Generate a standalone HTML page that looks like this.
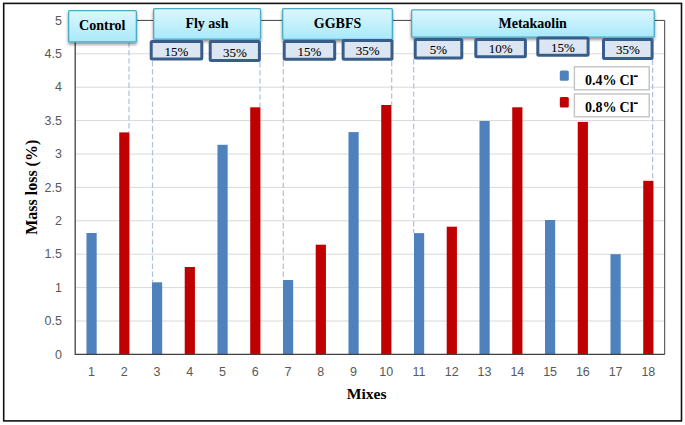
<!DOCTYPE html><html><head><meta charset="utf-8"><style>html,body{margin:0;padding:0;background:#fff;}svg{display:block}</style></head><body>
<svg width="685" height="425" viewBox="0 0 685 425">
<defs>
<linearGradient id="g" x1="0" y1="0" x2="0" y2="1"><stop offset="0" stop-color="#dcf7fe"/><stop offset="1" stop-color="#a9e9fa"/></linearGradient>
<filter id="sh" x="-10%" y="-20%" width="130%" height="160%"><feGaussianBlur in="SourceAlpha" stdDeviation="1.4"/><feOffset dx="0.3" dy="1.8" result="b"/><feComponentTransfer><feFuncA type="linear" slope="0.45"/></feComponentTransfer><feMerge><feMergeNode/><feMergeNode in="SourceGraphic"/></feMerge></filter>
</defs>
<rect x="0" y="0" width="685" height="425" fill="#fff"/>
<rect x="3.7" y="3.4" width="677.8" height="417.5" fill="none" stroke="#111" stroke-width="1.6"/>
<line x1="75.2" y1="321.00" x2="664.7" y2="321.00" stroke="#d9d9d9" stroke-width="1"/>
<line x1="75.2" y1="287.60" x2="664.7" y2="287.60" stroke="#d9d9d9" stroke-width="1"/>
<line x1="75.2" y1="254.20" x2="664.7" y2="254.20" stroke="#d9d9d9" stroke-width="1"/>
<line x1="75.2" y1="220.80" x2="664.7" y2="220.80" stroke="#d9d9d9" stroke-width="1"/>
<line x1="75.2" y1="187.40" x2="664.7" y2="187.40" stroke="#d9d9d9" stroke-width="1"/>
<line x1="75.2" y1="154.00" x2="664.7" y2="154.00" stroke="#d9d9d9" stroke-width="1"/>
<line x1="75.2" y1="120.60" x2="664.7" y2="120.60" stroke="#d9d9d9" stroke-width="1"/>
<line x1="75.2" y1="87.20" x2="664.7" y2="87.20" stroke="#d9d9d9" stroke-width="1"/>
<line x1="75.2" y1="53.80" x2="664.7" y2="53.80" stroke="#d9d9d9" stroke-width="1"/>
<polyline points="75.2,20.40 664.7,20.40 664.7,354.4" fill="none" stroke="#404040" stroke-width="1"/>
<rect x="86.48" y="233.00" width="10.2" height="121.40" fill="#4f81bd"/>
<rect x="119.23" y="132.40" width="10.2" height="222.00" fill="#c00000"/>
<rect x="151.97" y="282.30" width="10.2" height="72.10" fill="#4f81bd"/>
<rect x="184.72" y="267.00" width="10.2" height="87.40" fill="#c00000"/>
<rect x="217.47" y="144.80" width="10.2" height="209.60" fill="#4f81bd"/>
<rect x="250.22" y="107.30" width="10.2" height="247.10" fill="#c00000"/>
<rect x="282.97" y="280.00" width="10.2" height="74.40" fill="#4f81bd"/>
<rect x="315.72" y="244.70" width="10.2" height="109.70" fill="#c00000"/>
<rect x="348.47" y="132.10" width="10.2" height="222.30" fill="#4f81bd"/>
<rect x="381.22" y="105.00" width="10.2" height="249.40" fill="#c00000"/>
<rect x="413.97" y="233.10" width="10.2" height="121.30" fill="#4f81bd"/>
<rect x="446.72" y="226.70" width="10.2" height="127.70" fill="#c00000"/>
<rect x="479.47" y="121.00" width="10.2" height="233.40" fill="#4f81bd"/>
<rect x="512.23" y="107.30" width="10.2" height="247.10" fill="#c00000"/>
<rect x="544.98" y="220.00" width="10.2" height="134.40" fill="#4f81bd"/>
<rect x="577.73" y="121.90" width="10.2" height="232.50" fill="#c00000"/>
<rect x="610.48" y="254.20" width="10.2" height="100.20" fill="#4f81bd"/>
<rect x="643.23" y="180.80" width="10.2" height="173.60" fill="#c00000"/>
<line x1="75.2" y1="354.4" x2="664.7" y2="354.4" stroke="#404040" stroke-width="1.3"/>
<line x1="75.2" y1="20.40" x2="75.2" y2="355.0" stroke="#404040" stroke-width="1.3"/>
<line x1="129.0" y1="42" x2="129.0" y2="132.40" stroke="#abc1e1" stroke-width="1.2" stroke-dasharray="5.4 2.7"/>
<line x1="152.5" y1="61" x2="152.5" y2="282.30" stroke="#abc1e1" stroke-width="1.2" stroke-dasharray="5.4 2.7"/>
<line x1="260.0" y1="62" x2="260.0" y2="107.30" stroke="#abc1e1" stroke-width="1.2" stroke-dasharray="5.4 2.7"/>
<line x1="283.3" y1="61" x2="283.3" y2="280.00" stroke="#abc1e1" stroke-width="1.2" stroke-dasharray="5.4 2.7"/>
<line x1="391.7" y1="61" x2="391.7" y2="105.00" stroke="#abc1e1" stroke-width="1.2" stroke-dasharray="5.4 2.7"/>
<line x1="413.7" y1="59" x2="413.7" y2="233.10" stroke="#abc1e1" stroke-width="1.2" stroke-dasharray="5.4 2.7"/>
<line x1="652.6" y1="59.5" x2="652.6" y2="180.80" stroke="#abc1e1" stroke-width="1.2" stroke-dasharray="5.4 2.7"/>
<text x="62" y="358.60" text-anchor="end" font-family="Liberation Sans, sans-serif" font-size="12.5" fill="#595959">0</text>
<text x="62" y="325.20" text-anchor="end" font-family="Liberation Sans, sans-serif" font-size="12.5" fill="#595959">0.5</text>
<text x="62" y="291.80" text-anchor="end" font-family="Liberation Sans, sans-serif" font-size="12.5" fill="#595959">1</text>
<text x="62" y="258.40" text-anchor="end" font-family="Liberation Sans, sans-serif" font-size="12.5" fill="#595959">1.5</text>
<text x="62" y="225.00" text-anchor="end" font-family="Liberation Sans, sans-serif" font-size="12.5" fill="#595959">2</text>
<text x="62" y="191.60" text-anchor="end" font-family="Liberation Sans, sans-serif" font-size="12.5" fill="#595959">2.5</text>
<text x="62" y="158.20" text-anchor="end" font-family="Liberation Sans, sans-serif" font-size="12.5" fill="#595959">3</text>
<text x="62" y="124.80" text-anchor="end" font-family="Liberation Sans, sans-serif" font-size="12.5" fill="#595959">3.5</text>
<text x="62" y="91.40" text-anchor="end" font-family="Liberation Sans, sans-serif" font-size="12.5" fill="#595959">4</text>
<text x="62" y="58.00" text-anchor="end" font-family="Liberation Sans, sans-serif" font-size="12.5" fill="#595959">4.5</text>
<text x="62" y="24.60" text-anchor="end" font-family="Liberation Sans, sans-serif" font-size="12.5" fill="#595959">5</text>
<text x="91.58" y="376" text-anchor="middle" font-family="Liberation Sans, sans-serif" font-size="12.5" fill="#595959">1</text>
<text x="124.33" y="376" text-anchor="middle" font-family="Liberation Sans, sans-serif" font-size="12.5" fill="#595959">2</text>
<text x="157.07" y="376" text-anchor="middle" font-family="Liberation Sans, sans-serif" font-size="12.5" fill="#595959">3</text>
<text x="189.82" y="376" text-anchor="middle" font-family="Liberation Sans, sans-serif" font-size="12.5" fill="#595959">4</text>
<text x="222.57" y="376" text-anchor="middle" font-family="Liberation Sans, sans-serif" font-size="12.5" fill="#595959">5</text>
<text x="255.32" y="376" text-anchor="middle" font-family="Liberation Sans, sans-serif" font-size="12.5" fill="#595959">6</text>
<text x="288.07" y="376" text-anchor="middle" font-family="Liberation Sans, sans-serif" font-size="12.5" fill="#595959">7</text>
<text x="320.82" y="376" text-anchor="middle" font-family="Liberation Sans, sans-serif" font-size="12.5" fill="#595959">8</text>
<text x="353.57" y="376" text-anchor="middle" font-family="Liberation Sans, sans-serif" font-size="12.5" fill="#595959">9</text>
<text x="386.32" y="376" text-anchor="middle" font-family="Liberation Sans, sans-serif" font-size="12.5" fill="#595959">10</text>
<text x="419.07" y="376" text-anchor="middle" font-family="Liberation Sans, sans-serif" font-size="12.5" fill="#595959">11</text>
<text x="451.82" y="376" text-anchor="middle" font-family="Liberation Sans, sans-serif" font-size="12.5" fill="#595959">12</text>
<text x="484.57" y="376" text-anchor="middle" font-family="Liberation Sans, sans-serif" font-size="12.5" fill="#595959">13</text>
<text x="517.33" y="376" text-anchor="middle" font-family="Liberation Sans, sans-serif" font-size="12.5" fill="#595959">14</text>
<text x="550.08" y="376" text-anchor="middle" font-family="Liberation Sans, sans-serif" font-size="12.5" fill="#595959">15</text>
<text x="582.83" y="376" text-anchor="middle" font-family="Liberation Sans, sans-serif" font-size="12.5" fill="#595959">16</text>
<text x="615.58" y="376" text-anchor="middle" font-family="Liberation Sans, sans-serif" font-size="12.5" fill="#595959">17</text>
<text x="648.33" y="376" text-anchor="middle" font-family="Liberation Sans, sans-serif" font-size="12.5" fill="#595959">18</text>
<text x="366.7" y="398.9" text-anchor="middle" font-family="Liberation Serif, serif" font-weight="bold" font-size="15.6" fill="#000">Mixes</text>
<text transform="translate(36.8,187.3) rotate(-90)" x="0" y="0" text-anchor="middle" font-family="Liberation Serif, serif" font-weight="bold" font-size="16" fill="#000">Mass loss (%)</text>
<rect x="68.65" y="10.65" width="67.70" height="31.30" rx="1" fill="url(#g)" stroke="#4bacc6" stroke-width="1.3" filter="url(#sh)"/>
<text x="102.3" y="30.3" text-anchor="middle" font-family="Liberation Serif, serif" font-weight="bold" font-size="14" fill="#000">Control</text>
<rect x="153.65" y="8.65" width="106.90" height="30.50" rx="1" fill="url(#g)" stroke="#4bacc6" stroke-width="1.3" filter="url(#sh)"/>
<text x="207" y="27.6" text-anchor="middle" font-family="Liberation Serif, serif" font-weight="bold" font-size="14" fill="#000">Fly ash</text>
<rect x="282.65" y="8.65" width="109.70" height="30.70" rx="1" fill="url(#g)" stroke="#4bacc6" stroke-width="1.3" filter="url(#sh)"/>
<text x="337.5" y="27.6" text-anchor="middle" font-family="Liberation Serif, serif" font-weight="bold" font-size="14" fill="#000">GGBFS</text>
<rect x="411.65" y="9.85" width="242.60" height="27.20" rx="1" fill="url(#g)" stroke="#4bacc6" stroke-width="1.3" filter="url(#sh)"/>
<text x="532.7" y="28.2" text-anchor="middle" font-family="Liberation Serif, serif" font-weight="bold" font-size="14" fill="#000">Metakaolin</text>
<rect x="151.2" y="41.5" width="50.60" height="17.60" rx="1" fill="#dce6f2" stroke="#385d8a" stroke-width="3"/>
<text x="176.50" y="55.8" text-anchor="middle" font-family="Liberation Serif, serif" font-size="13" fill="#000" stroke="#000" stroke-width="0.08">15%</text>
<rect x="210.2" y="41.5" width="49.20" height="19.00" rx="1" fill="#dce6f2" stroke="#385d8a" stroke-width="3"/>
<text x="234.80" y="57.0" text-anchor="middle" font-family="Liberation Serif, serif" font-size="13" fill="#000" stroke="#000" stroke-width="0.08">35%</text>
<rect x="284.2" y="41.6" width="50.50" height="17.70" rx="1" fill="#dce6f2" stroke="#385d8a" stroke-width="3"/>
<text x="309.45" y="55.7" text-anchor="middle" font-family="Liberation Serif, serif" font-size="13" fill="#000" stroke="#000" stroke-width="0.08">15%</text>
<rect x="343.1" y="40.4" width="48.90" height="18.90" rx="1" fill="#dce6f2" stroke="#385d8a" stroke-width="3"/>
<text x="367.55" y="55.45" text-anchor="middle" font-family="Liberation Serif, serif" font-size="13" fill="#000" stroke="#000" stroke-width="0.08">35%</text>
<rect x="415.2" y="39.4" width="46.60" height="18.50" rx="1" fill="#dce6f2" stroke="#385d8a" stroke-width="3"/>
<text x="438.50" y="53.8" text-anchor="middle" font-family="Liberation Serif, serif" font-size="13" fill="#000" stroke="#000" stroke-width="0.08">5%</text>
<rect x="475.8" y="39.5" width="49.60" height="17.15" rx="1" fill="#dce6f2" stroke="#385d8a" stroke-width="3"/>
<text x="500.60" y="52.9" text-anchor="middle" font-family="Liberation Serif, serif" font-size="13" fill="#000" stroke="#000" stroke-width="0.08">10%</text>
<rect x="537.8" y="37.9" width="50.30" height="17.45" rx="1" fill="#dce6f2" stroke="#385d8a" stroke-width="3"/>
<text x="562.95" y="52.0" text-anchor="middle" font-family="Liberation Serif, serif" font-size="13" fill="#000" stroke="#000" stroke-width="0.08">15%</text>
<rect x="603.5" y="39.4" width="48.60" height="19.20" rx="1" fill="#dce6f2" stroke="#385d8a" stroke-width="3"/>
<text x="627.80" y="53.7" text-anchor="middle" font-family="Liberation Serif, serif" font-size="13" fill="#000" stroke="#000" stroke-width="0.08">35%</text>
<rect x="559.8" y="70.4" width="9" height="10.4" rx="1.5" fill="#4f81bd"/>
<rect x="559.8" y="97" width="9" height="10.4" rx="1.5" fill="#c00000"/>
<rect x="574.4" y="66.8" width="74.8" height="23.00" fill="#fff" stroke="#c3c3c3" stroke-width="1.4"/>
<rect x="574.4" y="94.0" width="74.8" height="22.80" fill="#fff" stroke="#c3c3c3" stroke-width="1.4"/>
<text x="585.1" y="84.8" font-family="Liberation Serif, serif" font-weight="bold" font-size="14" fill="#000">0.4%<tspan x="619.6">Cl</tspan></text>
<rect x="633.8" y="75.40" width="4" height="1.6" fill="#000"/>
<text x="585.1" y="111.8" font-family="Liberation Serif, serif" font-weight="bold" font-size="14" fill="#000">0.8%<tspan x="619.6">Cl</tspan></text>
<rect x="633.8" y="102.40" width="4" height="1.6" fill="#000"/>
</svg></body></html>
